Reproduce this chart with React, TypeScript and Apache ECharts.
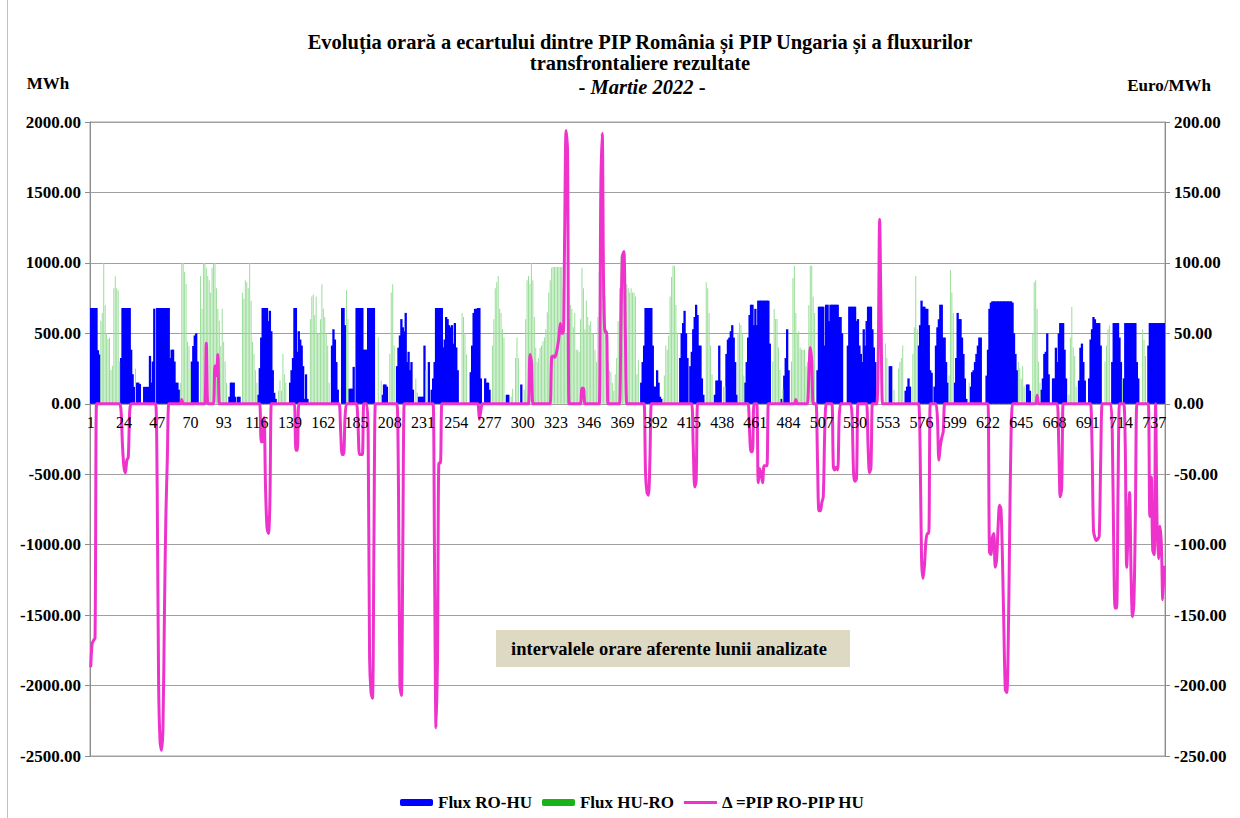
import React, { useEffect, useRef } from "react";
import * as echarts from "echarts";

const FONT = '"Liberation Serif", "Times New Roman", serif';

// hourly categories (March 2022: 31 days x 24 h)
const categories: string[] = Array.from({ length: 744 }, (_, i) => String(i + 1));

// Flux RO-HU (MWh), one row per day
const roHuDays: number[][] = [
  [680,680,680,680,680,380,350,0,0,0,0,0,0,0,0,0,0,0,0,0,0,325,680,680],
  [680,680,680,680,384,210,120,0,150,150,140,0,0,120,120,120,120,340,150,300,675,0,680,680],
  [680,680,680,680,680,680,680,325,384,384,300,150,150,100,0,0,0,0,0,0,0,0,300,410],
  [485,500,300,0,0,0,0,0,0,0,0,0,0,0,0,0,0,0,0,0,0,0,0,0],
  [50,150,150,150,50,0,50,50,0,0,0,0,0,0,0,0,0,0,0,0,64,253,470,680],
  [680,680,680,587,660,515,238,78,35,0,0,0,0,0,0,0,0,0,150,238,325,680,680,369],
  [515,456,413,267,35,209,35,0,0,0,0,0,0,0,0,0,0,0,0,0,0,0,0,413],
  [529,456,296,100,0,0,680,680,558,0,0,107,107,107,262,0,680,680,680,680,680,384,384,384],
  [680,680,680,680,680,0,0,0,0,0,64,137,137,122,0,0,0,0,0,0,267,398,485,601],
  [543,514,645,296,369,238,296,100,0,0,0,50,50,50,50,413,0,0,296,0,100,180,296,680],
  [680,680,680,680,400,456,616,601,558,543,558,427,573,400,238,0,0,0,0,0,0,0,0,224],
  [413,645,674,674,680,680,180,0,0,180,150,150,100,0,0,0,0,0,0,0,0,0,0,0],
  [64,64,0,0,0,0,0,0,0,0,137,0,0,0,0,0,0,0,0,0,0,0,0,0],
  [0,0,0,0,0,0,0,0,0,0,0,0,0,0,0,0,0,0,0,0,0,0,0,0],
  [0,0,0,0,0,0,0,0,0,0,0,0,0,0,0,0,0,0,0,0,0,0,0,0],
  [0,0,0,0,0,0,0,0,0,0,0,0,0,0,0,0,0,0,0,0,0,150,296,413],
  [680,680,680,680,680,413,122,122,238,150,50,35,0,0,0,0,0,0,0,0,0,0,0,0],
  [325,500,573,660,500,325,0,267,369,529,616,703,630,413,413,180,64,0,0,0,0,0,0,0],
  [64,165,165,413,165,0,0,0,354,456,470,515,558,470,296,64,0,0,0,0,0,150,296,470],
  [630,703,703,558,674,558,732,732,732,732,732,732,732,732,427,0,0,0,0,0,0,0,35,0],
  [200,325,529,238,0,0,0,0,0,0,0,0,0,0,0,0,0,0,0,0,0,0,0,238],
  [689,689,689,689,413,703,703,587,703,703,703,703,703,703,616,616,500,0,0,0,413,689,689,689],
  [689,689,587,601,413,354,296,529,413,587,689,689,689,529,400,296,0,0,0,0,0,0,0,0],
  [0,267,267,0,0,0,0,0,0,0,0,0,93,122,180,122,0,0,0,0,0,413,558,732],
  [689,689,674,674,558,238,220,0,122,413,543,600,703,703,470,470,296,150,0,0,0,0,150,325],
  [645,601,601,470,354,180,35,0,0,122,224,238,296,354,413,470,470,0,0,0,200,384,674,718],
  [727,727,727,727,727,727,727,727,727,727,727,727,727,727,718,500,354,238,0,0,0,0,0,0],
  [137,137,93,0,0,0,0,0,0,0,100,180,354,369,500,209,0,0,180,180,398,296,500,573],
  [573,573,384,180,0,0,0,0,0,0,0,0,165,398,427,296,165,0,0,180,456,529,616,600],
  [573,573,573,413,0,0,0,0,0,0,0,296,573,573,573,573,470,296,0,180,573,573,573,573],
  [573,573,573,573,296,180,0,0,0,0,0,0,413,573,573,573,573,573,573,573,573,573,573,573],
];

// Flux HU-RO (MWh), one row per day
const huRoDays: number[][] = [
  [0,0,0,0,0,0,0,590,645,1000,700,500,460,470,240,270,820,905,820,805,300,0,0,0],
  [0,0,0,0,0,0,0,250,0,0,0,0,0,0,0,0,0,0,0,0,0,0,0,0],
  [0,0,0,0,0,0,0,0,0,0,0,0,0,0,150,1000,1000,935,850,440,410,250,0,0],
  [0,0,0,0,907,675,1000,1000,965,907,877,790,965,995,1000,820,675,590,410,675,440,300,150,0],
  [0,0,0,0,0,0,0,0,0,790,747,877,863,820,1000,732,440,354,238,150,0,0,0,0],
  [0,0,0,0,0,0,0,0,0,0,93,165,93,354,209,150,0,0,0,0,0,0,0,0],
  [0,0,0,0,0,0,0,0,601,762,776,630,762,500,500,600,849,674,616,500,413,150,0,0],
  [0,0,0,0,0,0,0,0,0,805,600,0,0,0,0,0,0,0,0,0,0,0,0,0],
  [0,0,0,0,0,0,0,470,0,165,0,0,0,0,0,354,790,849,413,0,0,0,0,0],
  [0,0,0,0,0,0,0,0,0,180,80,0,0,0,0,0,238,296,0,0,0,0,0,0],
  [0,0,0,0,0,0,0,0,0,0,0,0,0,0,0,0,0,645,616,500,350,0,0,0],
  [0,0,0,0,0,0,0,0,0,0,0,0,0,0,413,600,820,863,907,675,645,529,470,0],
  [0,0,0,50,107,0,325,470,325,0,0,0,100,600,877,907,850,1000,877,616,400,296,325,398],
  [413,442,470,529,650,790,877,965,970,970,970,970,970,970,970,820,616,500,529,600,703,674,543,645],
  [384,384,370,600,965,820,529,733,616,558,587,500,500,384,296,616,936,950,877,877,762,529,296,238],
  [225,150,93,209,325,587,820,1052,1052,936,900,849,820,790,820,790,790,762,209,311,0,0,0,0],
  [0,0,0,0,0,0,0,0,0,0,0,0,35,200,413,384,485,762,900,980,980,703,500,0],
  [0,0,0,0,0,0,0,0,0,0,0,0,0,0,0,0,0,0,863,820,645,413,209,0],
  [0,0,0,0,0,0,120,120,0,0,0,0,0,0,0,0,500,573,558,500,200,0,0,0],
  [0,0,0,0,0,0,0,0,0,0,0,0,0,0,0,0,300,675,601,601,400,240,0,107],
  [0,0,0,0,0,300,892,980,645,500,515,400,384,384,384,267,296,700,980,980,762,645,0,0],
  [0,0,0,0,0,0,0,0,0,0,0,0,0,0,0,0,0,0,0,0,0,0,0,0],
  [0,0,0,0,0,0,0,0,0,0,0,0,0,0,0,0,0,0,0,0,0,0,427,325],
  [0,0,0,0,100,0,0,250,296,325,413,0,0,0,0,0,0,354,543,907,529,0,0,0],
  [0,0,0,0,0,0,0,0,0,0,0,0,0,0,0,0,0,0,200,950,790,645,0,0],
  [0,0,0,0,0,0,0,0,150,0,0,0,0,0,0,0,0,0,0,0,0,0,0,0],
  [0,0,0,0,0,0,0,0,0,0,0,0,0,0,0,0,0,0,296,252,180,267,122,0],
  [0,0,0,0,500,863,877,675,300,150,0,0,0,0,0,0,0,0,0,0,0,0,0,0],
  [0,0,0,0,0,64,470,689,400,340,122,0,0,0,0,0,0,0,0,0,0,0,0,0],
  [0,0,0,0,0,0,300,413,529,558,0,0,0,0,0,0,0,0,180,0,0,0,0,0],
  [0,0,0,0,0,0,0,0,529,456,340,0,0,0,0,0,0,0,0,0,0,0,0,0],
];

// Δ = PIP RO - PIP HU (Euro/MWh), one row per day
const deltaDays: number[][] = [
  [-187,-170,-168,-166,0,0,0,0,0,0,0,0,0,0,0,0,0,0,0,0,0,-5,-30,-45],
  [-49,-40,-38,-5,0,0,0,0,0,0,0,0,0,0,0,0,0,0,0,0,0,0,-60,-200],
  [-240,-246,-230,-150,-80,-40,0,0,0,0,0,0,0,0,0,3,0,0,0,0,0,0,0,0],
  [0,0,0,0,0,0,0,0,43,0,0,0,0,0,27,20,35,0,0,0,0,0,0,0],
  [0,0,0,0,0,0,0,0,0,0,0,0,0,0,0,0,0,0,0,0,0,0,-27,-27],
  [-10,-60,-88,-92,-70,0,0,0,0,0,0,0,0,0,0,0,0,0,0,0,0,0,-33,-33],
  [0,0,0,0,0,0,0,0,0,0,0,0,0,0,0,0,0,0,0,0,0,0,0,0],
  [0,0,0,0,0,-20,-36,-36,-10,0,0,0,0,0,0,0,0,-15,-36,-36,-36,0,0,0],
  [-20,-180,-205,-209,-100,0,0,0,0,0,0,0,0,0,0,0,0,0,0,0,0,-60,-200,-207],
  [-100,0,0,0,0,0,0,0,0,0,0,0,0,0,0,0,0,0,0,0,0,0,-120,-230],
  [-180,-42,-42,0,0,0,0,0,0,0,0,0,0,0,0,0,0,0,0,0,0,0,0,0],
  [0,0,0,0,0,-11,-5,0,0,0,0,0,0,0,0,0,0,0,0,0,0,0,0,0],
  [0,0,0,0,0,0,0,0,0,0,0,0,0,0,0,0,35,30,0,0,0,0,0,0],
  [0,0,0,0,0,0,0,33,34,33,35,40,47,57,50,50,120,194,180,0,0,0,0,0],
  [0,0,0,0,11,11,0,0,0,0,0,0,0,0,0,0,0,150,192,80,51,51,0,0],
  [0,0,0,0,0,0,0,60,105,108,50,0,0,0,0,0,0,0,0,0,0,0,0,0],
  [-50,-63,-65,-40,0,0,0,0,0,0,0,0,0,0,0,0,0,0,0,0,0,0,0,0],
  [0,0,0,0,0,0,0,0,0,-30,-59,-55,0,0,0,0,0,0,0,0,0,0,0,0],
  [0,0,0,0,0,0,0,0,0,0,0,0,0,0,0,0,0,0,0,0,0,0,0,0],
  [-20,-34,-34,0,0,0,-56,-46,-50,-56,-44,-44,-44,0,0,0,0,0,0,0,0,0,0,0],
  [0,0,0,0,0,0,0,0,3,0,0,0,0,0,0,0,0,20,40,30,0,0,0,-40],
  [-76,-76,-70,-66,-20,0,0,0,0,0,-45,-47,-45,-47,-10,0,0,0,0,0,0,0,0,-10],
  [-50,-55,-53,0,0,0,0,0,0,0,-30,-49,-45,0,0,0,0,30,131,60,0,0,0,0],
  [0,0,0,0,0,0,0,0,0,0,0,0,0,0,0,0,0,0,0,0,0,0,-30,-110],
  [-124,-115,-98,-92,-92,0,0,0,0,0,-10,-40,-30,-24,-20,0,0,0,0,0,0,0,0,0],
  [0,0,0,0,0,0,0,0,0,0,0,0,0,0,0,0,0,0,0,0,0,0,-105,-107],
  [-95,-92,-116,-110,-87,-72,-75,-110,-160,-203,-205,-170,-90,-20,0,0,0,0,0,0,0,0,0,0],
  [0,0,0,0,0,0,0,6,0,0,0,0,0,0,0,0,0,0,0,0,0,0,-30,-66],
  [-60,0,0,0,0,0,0,0,0,0,0,0,0,0,0,0,0,0,0,0,0,-30,-90,-95],
  [-97,-96,-94,-40,0,0,0,0,0,0,0,-20,-100,-145,-145,-60,0,0,0,0,-30,-116,-90,-63],
  [-120,-151,-140,-80,0,0,0,0,0,0,0,0,0,-80,-52,-104,-107,0,-84,-110,-87,-100,-139,-115],
];

const roHu = roHuDays.flat();
const huRo = huRoDays.flat();
const delta = deltaDays.flat();

const leftTicks = { min: -2500, max: 2000, interval: 500 };
const rightTicks = { min: -250, max: 200, interval: 50 };

const SERIES_NAMES = ["Flux RO-HU", "Flux HU-RO", "Δ =PIP RO-PIP HU"];
const PINK = "#EE33CC";

const CHART_H = 818;
const GRID = { left: 90, right: 75, top: 122, bottom: 62 };
// move the category axis up from the grid bottom to the value-axis zero
const PLOT_H = CHART_H - GRID.top - GRID.bottom;
const ZERO_OFFSET = -PLOT_H * (0 - leftTicks.min) / (leftTicks.max - leftTicks.min);

export default function App() {
  const ref = useRef<HTMLDivElement | null>(null);
  useEffect(() => {
    document.body.style.margin = "0";
    if (!ref.current) return;
    const chart = echarts.init(ref.current, undefined, { renderer: "svg" });
    const bold = { fontFamily: FONT, fontWeight: "bold" as const, color: "#000" };
    const centered = {
      fill: "#000",
      align: "center",
      verticalAlign: "middle",
      textAlign: "center",
      textVerticalAlign: "middle",
    };
    chart.setOption({
      animation: false,
      backgroundColor: "#ffffff",
      textStyle: { fontFamily: FONT },
      grid: {
        ...GRID,
        show: true,
        borderColor: "#a0a0a0",
        borderWidth: 1,
        backgroundColor: "transparent",
      },
      legend: {
        left: 395,
        top: 789,
        itemWidth: 33,
        itemHeight: 7,
        itemGap: 10,
        textStyle: { ...bold, fontSize: 17 },
        data: [
          { name: SERIES_NAMES[0], itemStyle: { color: "#0000FF" } },
          { name: SERIES_NAMES[1], itemStyle: { color: "#19B219" } },
          {
            name: SERIES_NAMES[2],
            icon: "path://M0,0L33,0L33,3L0,3Z",
            itemStyle: { color: PINK },
          },
        ],
      },
      xAxis: [
        {
          type: "category",
          data: categories,
          position: "bottom",
          offset: ZERO_OFFSET,
          z: 8,
          axisLine: { show: false, onZero: false },
          axisTick: { show: false },
          axisLabel: {
            interval: 22,
            fontSize: 16,
            fontFamily: FONT,
            color: "#000",
            margin: 11,
          },
          splitLine: { show: false },
        },
        {
          type: "category",
          data: categories,
          show: false,
          position: "top",
        },
      ],
      yAxis: [
        {
          type: "value",
          position: "left",
          ...leftTicks,
          axisLine: { show: true, onZero: false, lineStyle: { color: "#8c8c8c" } },
          axisTick: { show: true, length: 5, lineStyle: { color: "#8c8c8c" } },
          axisLabel: {
            ...bold,
            fontSize: 17,
            margin: 9,
            formatter: (v: number) => v.toFixed(2),
          },
          splitLine: { show: true, lineStyle: { color: "#a0a0a0", width: 1 } },
        },
        {
          type: "value",
          position: "right",
          ...rightTicks,
          axisLine: { show: true, onZero: false, lineStyle: { color: "#8c8c8c" } },
          axisTick: { show: true, length: 5, lineStyle: { color: "#8c8c8c" } },
          axisLabel: {
            ...bold,
            fontSize: 17,
            margin: 9,
            formatter: (v: number) => v.toFixed(2),
          },
          splitLine: { show: false },
        },
      ],
      series: [
        {
          name: SERIES_NAMES[0],
          type: "bar",
          xAxisIndex: 0,
          yAxisIndex: 0,
          data: roHu,
          barWidth: 2.3,
          itemStyle: { color: "#0000FF" },
          z: 2,
        },
        {
          name: SERIES_NAMES[1],
          type: "bar",
          xAxisIndex: 1,
          yAxisIndex: 0,
          data: huRo,
          barWidth: 1,
          itemStyle: { color: "#9ade9a" },
          z: 2,
        },
        {
          name: SERIES_NAMES[2],
          type: "line",
          xAxisIndex: 0,
          yAxisIndex: 1,
          data: delta,
          symbol: "none",
          smooth: 0.3,
          lineStyle: { width: 3, color: PINK },
          itemStyle: { color: PINK },
          z: 5,
        },
      ],
      graphic: [
        {
          type: "line",
          shape: { x1: 7.5, y1: 0, x2: 7.5, y2: 818 },
          style: { stroke: "#c0c0c0", lineWidth: 1 },
          silent: true,
        },
        {
          type: "text",
          x: 640,
          y: 42,
          style: {
            ...centered,
            text: "Evoluția orară a ecartului dintre PIP România și PIP Ungaria și a fluxurilor",
            font: `bold 20.5px ${FONT}`,
          },
        },
        {
          type: "text",
          x: 640,
          y: 63,
          style: {
            ...centered,
            text: "transfrontaliere rezultate",
            font: `bold 20.5px ${FONT}`,
          },
        },
        {
          type: "text",
          x: 642,
          y: 87,
          style: {
            ...centered,
            text: "{n|- }{i|Martie 2022}{n| -}",
            rich: {
              n: { fontFamily: FONT, fontWeight: "bold", fontSize: 20.5, fill: "#000", color: "#000" },
              i: { fontFamily: FONT, fontWeight: "bold", fontStyle: "italic", fontSize: 20.5, fill: "#000", color: "#000" },
            },
          },
        },
        {
          type: "text",
          x: 48,
          y: 83,
          style: { ...centered, text: "MWh", font: `bold 17px ${FONT}` },
        },
        {
          type: "text",
          x: 1169,
          y: 85,
          style: { ...centered, text: "Euro/MWh", font: `bold 17px ${FONT}` },
        },
        {
          type: "rect",
          shape: { x: 496, y: 630, width: 354, height: 37 },
          style: { fill: "#DDD9C3" },
          z: 10,
        },
        {
          type: "text",
          x: 669,
          y: 649,
          z: 11,
          style: {
            ...centered,
            text: "intervalele orare aferente lunii analizate",
            font: `bold 18.5px ${FONT}`,
          },
        },
      ],
    });
    return () => chart.dispose();
  }, []);
  return <div ref={ref} style={{ width: 1240, height: 818 }} />;
}
